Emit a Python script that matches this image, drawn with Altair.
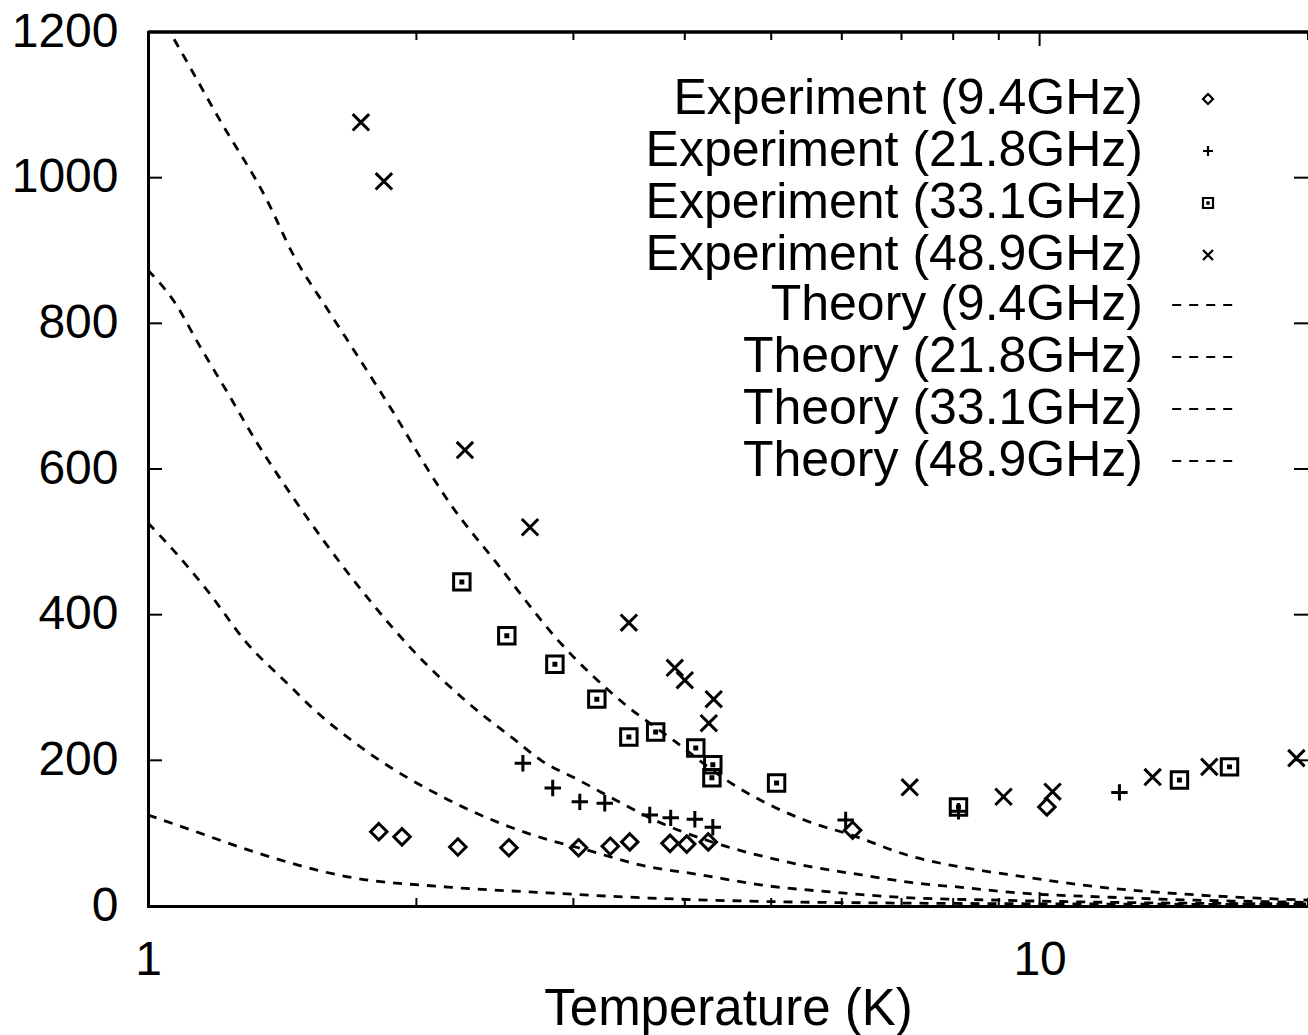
import altair as alt
import pandas as pd

FONT = "Liberation Sans"

exp_labels = ["Experiment (9.4GHz)", "Experiment (21.8GHz)",
              "Experiment (33.1GHz)", "Experiment (48.9GHz)"]
theory_labels = ["Theory (9.4GHz)", "Theory (21.8GHz)",
                 "Theory (33.1GHz)", "Theory (48.9GHz)"]

# ---- experimental points (T in K, value) ----
exp_94_T = [1.815, 1.927, 2.226, 2.54, 3.04, 3.30, 3.47, 3.85, 4.02, 4.25, 6.17, 10.19]
exp_94_v = [102, 95, 81, 80, 80, 82, 88, 86, 85, 88, 104, 136]

exp_218_T = [2.633, 2.844, 3.05, 3.253, 3.654, 3.857, 4.105, 4.30, 6.06, 8.11, 12.29]
exp_218_v = [196, 162, 143, 141, 125, 121, 119, 108, 118, 130, 156]

exp_331_T = [2.249, 2.526, 2.86, 3.187, 3.462, 3.71, 4.115, 4.30, 4.29, 5.07, 8.11, 14.35, 16.33]
exp_331_v = [445, 371, 332, 284, 232, 239, 217, 194, 176, 169, 136, 173, 191]

exp_489_T = [1.733, 1.839, 2.267, 2.682, 3.462, 3.898, 4.0, 4.31, 4.256, 7.15, 9.11, 10.34, 13.39, 15.5, 19.41]
exp_489_v = [1076, 995, 626, 520, 389, 327, 310, 284, 251, 163, 150, 157, 177, 191, 203]

# ---- theory curves ----
th_94_T = [1.0, 1.144, 1.295, 1.676, 2.17, 2.81, 3.64, 5.0, 7.0, 10.0, 20.0]
th_94_v = [125, 100, 77, 40, 26, 18, 11, 6, 4, 3, 2]

th_218_T = [1.0, 1.067, 1.164, 1.291, 1.443, 1.519, 1.751, 2.17, 2.81, 3.04, 3.64, 4.16, 4.86, 5.86, 6.97, 9.0, 12.0, 20.0]
th_218_v = [526, 489, 434, 361, 302, 275, 214, 146, 91, 80, 54, 43, 29, 19, 12, 8, 5, 3]

th_331_T = [1.0, 1.067, 1.144, 1.236, 1.325, 1.443, 1.571, 1.761, 1.982, 2.285, 2.58, 2.76, 3.04, 3.34, 3.64, 4.39, 4.94, 5.53, 6.29, 7.2, 8.28, 9.25, 12.0, 15.0, 20.0]
th_331_v = [873, 832, 768, 699, 636, 567, 503, 424, 351, 279, 228, 200, 173, 146, 122, 84, 67, 54, 43, 32, 25, 19, 12, 8, 5]

th_489_T = [1.0, 1.058, 1.204, 1.36, 1.454, 1.60, 1.729, 1.917, 2.018, 2.18, 2.46, 2.897, 3.41, 3.88, 4.49, 5.53, 6.17, 7.10, 8.28, 9.25, 11.67, 15.1, 20.0]
th_489_v = [1250, 1200, 1079, 969, 895, 814, 750, 663, 617, 553, 471, 362, 279, 228, 170, 115, 97, 70, 52, 43, 26, 15, 8]

# ---- axis tick values ----
x_major = [1, 10]
x_minor = [2, 3, 4, 5, 6, 7, 8, 9, 20]
y_ticks = [0, 200, 400, 600, 800, 1000, 1200]
y_inner = [200, 400, 600, 800, 1000]

W, H = 1160, 874

exp_rows = []
for lab, ts, vs in zip(exp_labels, [exp_94_T, exp_218_T, exp_331_T, exp_489_T],
                       [exp_94_v, exp_218_v, exp_331_v, exp_489_v]):
    exp_rows += [{"T": t, "v": v, "series": lab} for t, v in zip(ts, vs)]
exp_df = pd.DataFrame(exp_rows)

th_rows = []
for lab, ts, vs in zip(theory_labels, [th_94_T, th_218_T, th_331_T, th_489_T],
                       [th_94_v, th_218_v, th_331_v, th_489_v]):
    th_rows += [{"T": t, "v": v, "theory": lab} for t, v in zip(ts, vs)]
th_df = pd.DataFrame(th_rows)

xscale = alt.Scale(type="log", domain=[1, 20], nice=False)
yscale = alt.Scale(domain=[0, 1200], nice=False, zero=False)

xaxis = alt.Axis(values=x_major, format="~g", labelFontSize=48, labelFont=FONT,
                 labelColor="black", labelPadding=30, ticks=False, grid=False,
                 domainWidth=3, domainColor="black", domainCap="square",
                 labelFlush=False, labelOverlap=False,
                 title="Temperature (K)", titleFontSize=51, titleFont=FONT,
                 titleFontWeight="normal", titleColor="black", titlePadding=0)
yaxis = alt.Axis(values=y_ticks, format="d", labelFontSize=48, labelFont=FONT,
                 labelColor="black", labelPadding=30, ticks=False, grid=False,
                 domainWidth=3, domainColor="black", domainCap="square",
                 labelFlush=False, labelOverlap=False, title=None)

X = alt.X("T:Q", scale=xscale, axis=xaxis)
Y = alt.Y("v:Q", scale=yscale, axis=yaxis)

shape_paths = [
    "M0,-1L1,0L0,1L-1,0Z",
    "M-1,0L1,0M0,-1L0,1",
    "M-1,-1L1,-1L1,1L-1,1ZM-0.12,-0.12L0.12,-0.12L0.12,0.12L-0.12,0.12Z",
    "M-1,-1L1,1M-1,1L1,-1",
]

points = alt.Chart(exp_df).mark_point(filled=False, color="black", strokeWidth=3,
                                       size=270, opacity=1).encode(
    x=X, y=Y,
    shape=alt.Shape("series:N",
                    scale=alt.Scale(domain=exp_labels, range=shape_paths),
                    legend=alt.Legend(orient="none", legendX=1035, legendY=42,
                                      title=None, labelAlign="right",
                                      labelOffset={"expr": "-90"},
                                      labelFontSize=50, labelFont=FONT, labelColor="black",
                                      labelLimit=1000, symbolSize=100, symbolStrokeWidth=2.2,
                                      symbolStrokeColor="black",
                                      rowPadding=2, padding=0)),
)

lines = alt.Chart(th_df).mark_line(color="black", strokeWidth=2.8, clip=True,
                                   interpolate="monotone").encode(
    x=X, y=Y,
    strokeDash=alt.StrokeDash("theory:N",
                              scale=alt.Scale(domain=theory_labels,
                                              range=[[9, 8], [9, 8], [9, 8], [9, 8]]),
                              legend=alt.Legend(orient="none", legendX=1031, legendY=246,
                                                title=None, labelAlign="right",
                                                labelOffset={"expr": "-90"},
                                                labelFontSize=50,
                                                labelFont=FONT, labelColor="black",
                                                labelLimit=1000,
                                                symbolType="M-1.3,0L1.3,0",
                                                symbolSize=2704, symbolStrokeWidth=2,
                                                symbolStrokeColor="black",
                                                symbolFillColor="transparent",
                                                rowPadding=0, padding=0)),
)

xmaj_df = pd.DataFrame({"T": x_major})
xmin_df = pd.DataFrame({"T": x_minor})
yin_df = pd.DataFrame({"v": y_inner})

tick_bot_maj = alt.Chart(xmaj_df).mark_rule(color="black", strokeWidth=2).encode(
    x=X, y=alt.value(H), y2=alt.value(H - 14))
tick_top_maj = alt.Chart(xmaj_df).mark_rule(color="black", strokeWidth=2).encode(
    x=X, y=alt.value(0), y2=alt.value(14))
tick_bot_min = alt.Chart(xmin_df).mark_rule(color="black", strokeWidth=2).encode(
    x=X, y=alt.value(H), y2=alt.value(H - 8))
tick_top_min = alt.Chart(xmin_df).mark_rule(color="black", strokeWidth=2).encode(
    x=X, y=alt.value(0), y2=alt.value(8))
tick_left = alt.Chart(yin_df).mark_rule(color="black", strokeWidth=2).encode(
    y=Y, x=alt.value(0), x2=alt.value(14))
tick_right = alt.Chart(yin_df).mark_rule(color="black", strokeWidth=2).encode(
    y=Y, x=alt.value(W - 14), x2=alt.value(W))
top_border = alt.Chart(xmaj_df).mark_rule(color="black", strokeWidth=3).encode(
    x=alt.datum(1), x2=alt.datum(20), y=alt.value(0))

chart = alt.layer(
    tick_bot_maj, tick_top_maj, tick_bot_min, tick_top_min, tick_left, tick_right,
    top_border, lines, points
).properties(
    width=W, height=H,
    autosize=alt.AutoSizeParams(type="none"),
    padding={"left": 148, "top": 32, "right": 0, "bottom": 129},
    background="white",
).configure_view(stroke="transparent")

chart.save("out.html", embed_options={"renderer": "svg", "actions": False})
